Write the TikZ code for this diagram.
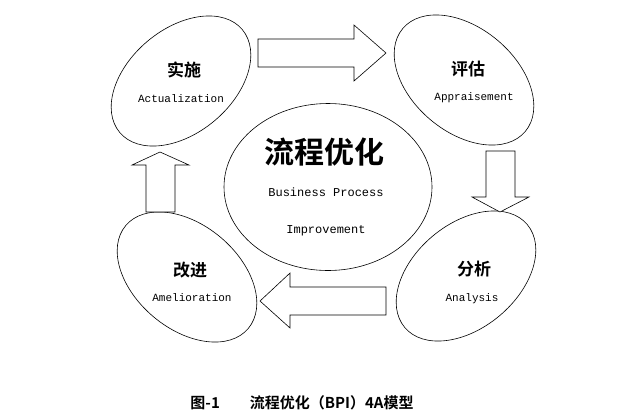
\documentclass[tikz,border=0pt]{standalone}
\usepackage{fontspec}
\setmonofont{Liberation Mono}
\newfontfamily\cjk{Noto Sans CJK SC}
\newfontfamily\cjkb{Noto Sans CJK SC Bold}
\usetikzlibrary{shapes.geometric}
\begin{document}
\begin{tikzpicture}[x=1pt,y=-1pt,
  ell/.style={draw,ellipse,minimum width=160pt,minimum height=104pt,inner sep=0pt,line width=0.6pt},
  zh/.style={font=\cjkb\fontsize{17}{17}\selectfont},
  en/.style={font=\ttfamily\fontsize{11}{11}\selectfont},
  blk/.style={draw,line width=0.6pt,fill=white}]
\useasboundingbox (0,0) rectangle (620,413);
\node[ell,rotate=40] (e1) at (181,81) {};
\node[ell,rotate=-40] (e2) at (464,80) {};
\node[ell,rotate=-40] (e4) at (187,277) {};
\node[ell,rotate=40] (e3) at (466,276) {};
\node[draw,ellipse,minimum width=208pt,minimum height=167pt,line width=0.6pt] (c) at (328,187) {};
\node[zh] (t1) at (184,70) {实施};
\node[en] (s1) at (181,99) {Actualization};
\node[zh] (t2) at (468,69) {评估};
\node[en] (s2) at (474,98) {Appraisement};
\node[zh] (t3) at (474,269) {分析};
\node[en] (s3) at (472,299) {Analysis};
\node[zh] (t4) at (190,270) {改进};
\node[en] (s4) at (192,298) {Amelioration};
\node[font=\cjkb\fontsize{30}{30}\selectfont] (ct) at (324,152) {流程优化};
\node[en,font=\ttfamily\fontsize{12}{12}\selectfont] (c1) at (326,192) {Business Process};
\node[en,font=\ttfamily\fontsize{12}{12}\selectfont] (c2) at (326,231) {Improvement};
% block arrows
\draw[blk] (258,39) -- (354,39) -- (354,25) -- (386,53) -- (354,81) -- (354,67) -- (258,67) -- cycle;
\draw[blk] (486,151) -- (515,151) -- (515,197) -- (529,197) -- (500,212) -- (472,197) -- (486,197) -- cycle;
\draw[blk] (386,287) -- (290,287) -- (290,273) -- (260,301) -- (290,328) -- (290,315) -- (386,315) -- cycle;
\draw[blk] (146,212) -- (146,165) -- (132,165) -- (160,152) -- (189,165) -- (175,165) -- (175,212) -- cycle;
\node[font=\cjkb\fontsize{15}{15}\selectfont] (cap) at (302,403) {图-1\quad\quad 流程优化（BPI）4A模型};
\end{tikzpicture}
\end{document}
